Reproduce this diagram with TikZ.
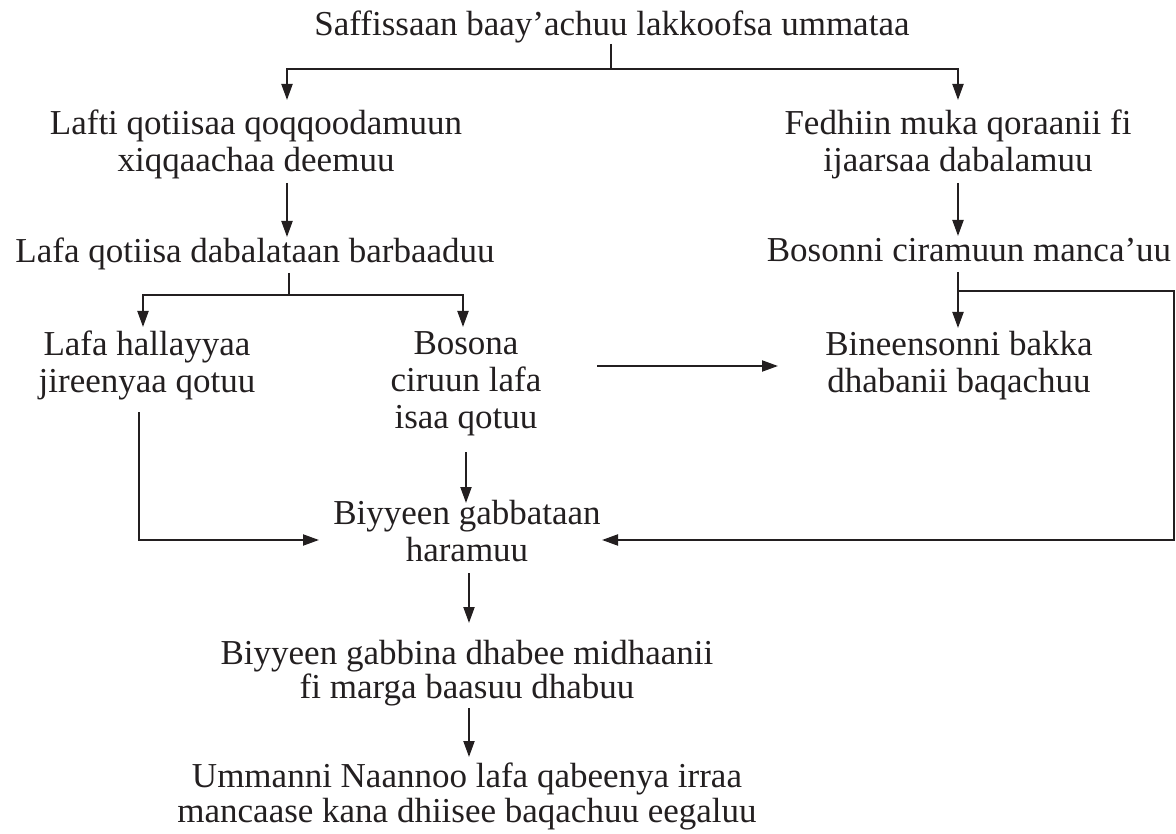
\documentclass[tikz,border=0pt]{standalone}
\usepackage{fontspec}
\setmainfont{Liberation Serif}
\usetikzlibrary{arrows.meta}
\definecolor{ink}{RGB}{35,31,32}
\begin{document}
\begin{tikzpicture}[x=1pt,y=-1pt,
  txt/.style={align=center,inner sep=0pt,anchor=north,font=\fontsize{35}{37}\selectfont,text=ink},
  ln/.style={line width=2pt,ink},
  arr/.style={ln,-{Triangle[length=16pt,width=11pt]}}]
\useasboundingbox (0,0) rectangle (1176,834);
% nodes
\node[txt] (t) at (612,11) {Saffissaan baay’achuu lakkoofsa ummataa};
\node[txt] (a) at (256,110) {Lafti qotiisaa qoqqoodamuun\\xiqqaachaa deemuu};
\node[txt] (b) at (958,110) {Fedhiin muka qoraanii fi\\ijaarsaa dabalamuu};
\node[txt] (c) at (255,238) {Lafa qotiisa dabalataan barbaaduu};
\node[txt] (d) at (969,238) {Bosonni ciramuun manca’uu};
\node[txt] (e) at (147,331) {Lafa hallayyaa\\jireenyaa qotuu};
\node[txt] (f) at (466,331) {Bosona\\ciruun lafa\\isaa qotuu};
\node[txt] (g) at (959,331) {Bineensonni bakka\\dhabanii baqachuu};
\node[txt] (h) at (467,500) {Biyyeen gabbataan\\haramuu};
\node[txt,font=\fontsize{35}{34}\selectfont] (i) at (467,640) {Biyyeen gabbina dhabee midhaanii\\fi marga baasuu dhabuu};
\node[txt,font=\fontsize{35}{35}\selectfont] (j) at (467,763) {Ummanni Naannoo lafa qabeenya irraa\\mancaase kana dhiisee baqachuu eegaluu};
% junction coordinates
\coordinate (s1) at (611,44);
\coordinate (j1) at (611,69);
\coordinate (aL) at (287,100);
\coordinate (aR) at (958,100);
\coordinate (s2) at (287,183);
\coordinate (t2) at (287,237);
\coordinate (s3) at (958,183);
\coordinate (t3) at (958,236);
\coordinate (s4) at (289,273);
\coordinate (j4) at (289,295);
\coordinate (eT) at (143,327);
\coordinate (fT) at (463,327);
\coordinate (s5) at (958,272);
\coordinate (j5) at (958,291);
\coordinate (gT) at (958,328);
\coordinate (rc1) at (1174,291);
\coordinate (rc2) at (1174,540);
\coordinate (hR) at (602,540);
\coordinate (s6) at (597,366);
\coordinate (gL) at (778,366);
\coordinate (s7) at (139,412);
\coordinate (lc) at (139,540);
\coordinate (hL) at (319,540);
\coordinate (s8) at (466,452);
\coordinate (hT) at (466,503);
\coordinate (s9) at (469,573);
\coordinate (iT) at (469,623);
\coordinate (s10) at (469,708);
\coordinate (jT) at (469,757);
% connectors
\draw[ln] (s1) -- (j1);
\draw[arr] (j1) -| (aL);
\draw[arr] (j1) -| (aR);
\draw[arr] (s2) -- (t2);
\draw[arr] (s3) -- (t3);
\draw[ln] (s4) -- (j4);
\draw[arr] (j4) -| (eT);
\draw[arr] (j4) -| (fT);
\draw[arr] (s5) -- (gT);
\draw[arr] (j5) -- (rc1) -- (rc2) -- (hR);
\draw[arr] (s6) -- (gL);
\draw[arr] (s7) -- (lc) -- (hL);
\draw[arr] (s8) -- (hT);
\draw[arr] (s9) -- (iT);
\draw[arr] (s10) -- (jT);
\end{tikzpicture}
\end{document}
